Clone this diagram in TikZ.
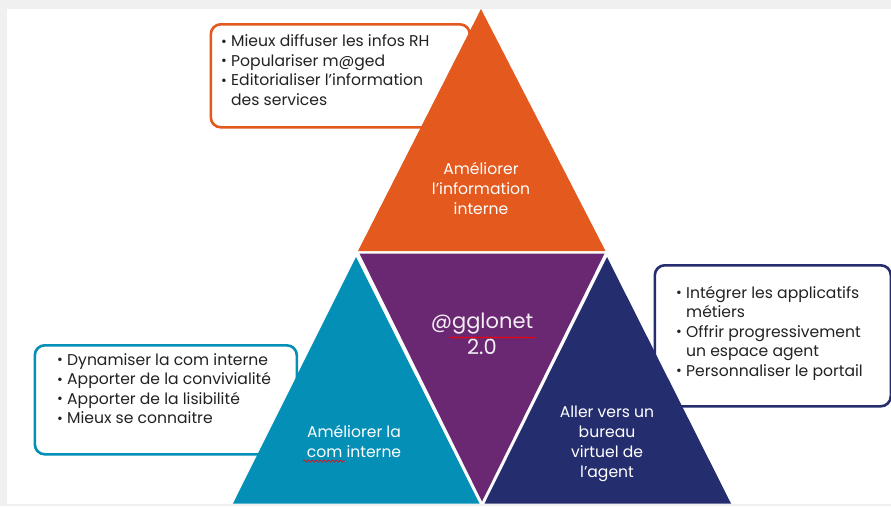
\documentclass[tikz,border=0pt]{standalone}
\usepackage{fontspec}
\setmainfont{Poppins}
\usetikzlibrary{decorations.pathmorphing}
\definecolor{orangeC}{HTML}{E3591E}
\definecolor{purpleC}{HTML}{6A2873}
\definecolor{tealC}{HTML}{048FB6}
\definecolor{navyC}{HTML}{242D6E}
\definecolor{textC}{HTML}{222222}
\definecolor{bandC}{HTML}{F0F0F0}
\newcommand\bl{\makebox[10pt][l]{\raisebox{0.5pt}{\fontsize{14}{14}\selectfont\textbullet}}}
\newcommand\cont{\hspace*{10pt}}
\begin{document}
\begin{tikzpicture}[x=1pt,y=-1pt,
  callout/.style={draw=#1, line width=2.6pt, rounded corners=10pt, fill=white, inner sep=0pt},
  listtext/.style={anchor=base west, align=left, inner sep=0pt, text=textC, font=\fontsize{15.6}{19.5}\selectfont},
  tlabel/.style={align=center, text=white, inner sep=0pt, anchor=base, font=\fontsize{15.6}{19.8}\selectfont},
  spell/.style={draw=red, line width=0.7pt, decorate, decoration={snake, amplitude=1pt, segment length=4pt}}
]
\useasboundingbox (0,0) rectangle (891,506);
\fill[white] (0,0) rectangle (891,506);
\fill[bandC] (0,0) rectangle (891,9);
\fill[bandC] (0,0) rectangle (7,506);
\fill[bandC] (0,504) rectangle (891,506);

% callout boxes
\node[callout=orangeC, minimum width=259pt, minimum height=103pt, anchor=north west] (obox) at (209.5,23) {};
\node[callout=tealC, minimum width=262pt, minimum height=109pt, anchor=north west] (tbox) at (33.5,344) {};
\node[callout=navyC, minimum width=236pt, minimum height=141pt, anchor=north west] (nbox) at (653.5,264) {};

\node[listtext] (otext) at (221,105) {\bl Mieux diffuser les infos RH\\\bl Populariser m@ged\\\bl Editorialiser l’information\\\cont des services};
\node[listtext] (ttext) at (57,423.5) {\bl Dynamiser la com interne\\\bl Apporter de la convivialité\\\bl Apporter de la lisibilité\\\bl Mieux se connaitre};
\node[listtext] (ntext) at (676,376) {\bl Intégrer les applicatifs\\\cont métiers\\\bl Offrir progressivement\\\cont un espace agent\\\bl Personnaliser le portail};

% triangles
\fill[orangeC] (481,9) -- (605.5,251) -- (358,251) -- cycle;
\fill[purpleC] (359.5,253.5) -- (604.5,253.5) -- (482,501.5) -- cycle;
\fill[tealC] (356,257) -- (479.5,503.5) -- (233,503.5) -- cycle;
\fill[navyC] (607,257) -- (731,503.5) -- (484.5,503.5) -- cycle;

\node[tlabel] (olab) at (481,214) {Améliorer\\l’information\\interne};
\node[tlabel, text=white!92!purpleC, font=\fontsize{21}{26}\selectfont] (plab) at (482,354) {@gglonet\\2.0};
\node[tlabel] (tlab) at (354,457) {Améliorer la\\com interne};
\node[tlabel] (nlab) at (607,477) {Aller vers un\\bureau\\virtuel de\\l’agent};

\draw[spell] (450,337.5) -- (535,337.5);
\draw[spell] (303,461) -- (345,461);
\end{tikzpicture}
\end{document}
